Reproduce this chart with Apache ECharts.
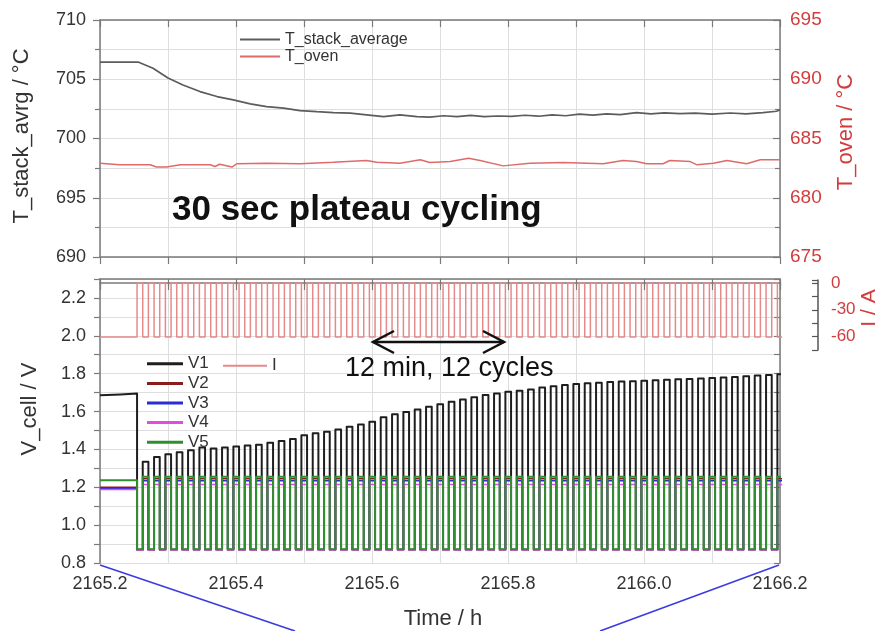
<!DOCTYPE html>
<html>
<head>
<meta charset="utf-8">
<script src="https://cdn.jsdelivr.net/npm/echarts@6/dist/echarts.min.js"></script>
<style>html,body{margin:0;padding:0;background:#fff}#c{width:881px;height:631px}</style>
</head>
<body>
<div id="c"></div>
<script>
// ---------------- data ----------------
const timeMin = 2165.2, timeMax = 2166.2;
const timeLabels = ['2165.2','2165.4','2165.6','2165.8','2166.0','2166.2'];

// upper panel
const tStackTime  = [2165.200,2165.256,2165.278,2165.300,2165.322,2165.347,2165.372,2165.396,2165.421,2165.445,2165.470,2165.494,2165.519,2165.543,2165.568,2165.592,2165.617,2165.641,2165.666,2165.685,2165.705,2165.725,2165.745,2165.765,2165.785,2165.805,2165.825,2165.845,2165.865,2165.885,2165.905,2165.925,2165.945,2165.965,2165.989,2166.010,2166.030,2166.053,2166.075,2166.100,2166.127,2166.150,2166.175,2166.195,2166.200];
const tStackValue = [706.45,706.45,705.93,705.10,704.52,703.96,703.54,703.26,702.92,702.69,702.56,702.36,702.27,702.19,702.14,702.00,701.85,702.00,701.85,701.80,701.92,701.84,701.95,701.84,701.90,701.86,701.96,701.88,701.99,701.92,702.05,701.98,702.08,702.02,702.19,702.08,702.16,702.10,702.14,702.05,702.15,702.08,702.19,702.30,702.42];
const tOvenTime  = [2165.200,2165.229,2165.274,2165.283,2165.298,2165.318,2165.362,2165.369,2165.376,2165.394,2165.401,2165.445,2165.494,2165.543,2165.592,2165.607,2165.641,2165.671,2165.685,2165.715,2165.742,2165.759,2165.793,2165.832,2165.881,2165.940,2165.969,2165.989,2166.004,2166.028,2166.038,2166.068,2166.078,2166.102,2166.122,2166.151,2166.171,2166.200];
const tOvenValue = [682.92,682.78,682.78,682.59,682.59,682.78,682.78,682.64,682.83,682.59,682.87,682.92,682.87,683.00,683.14,683.00,682.92,683.20,682.97,683.05,683.34,683.14,682.69,682.92,682.97,682.87,683.14,683.05,682.87,682.87,683.14,683.05,682.78,682.92,683.14,682.87,683.20,683.20];

// lower panel: 30 s plateau cycling, one cycle per minute
const cycleStart = 2165.2545;        // h, first current step
const cyclePeriod = 1 / 60;          // h (1 min)
const v1Peak = [1.335,1.360,1.375,1.385,1.395,1.410,1.405,1.410,1.415,1.420,1.425,1.435,1.445,1.455,1.475,1.485,1.493,1.505,1.520,1.532,1.546,1.570,1.585,1.597,1.611,1.625,1.638,1.652,1.664,1.675,1.687,1.695,1.704,1.710,1.717,1.727,1.734,1.740,1.745,1.749,1.752,1.756,1.758,1.760,1.762,1.765,1.768,1.770,1.772,1.775,1.777,1.780,1.782,1.786,1.790,1.793,1.797];
const v1Before = [[2165.200,1.686],[2165.230,1.690],[2165.2545,1.695]];
const cellNames   = ['V2','V3','V4','V5'];
const cellBefore  = [1.200, 1.195, 1.188, 1.237];
const cellHigh    = [1.245, 1.235, 1.215, 1.255];
const cellLow     = [0.870, 0.870, 0.868, 0.872];
const v1Low = 0.870;
const currentBefore = -60, currentRest = 0, currentLoad = -60;

// ---------------- build series data ----------------
function zip(a, b) { return a.map((t, i) => [t, b[i]]); }
function cycled(before, lowVals, highVals) {
  const d = before.slice();
  for (let i = 0; i < highVals.length; i++) {
    const t0 = cycleStart + i * cyclePeriod, th = t0 + cyclePeriod / 2, t1 = t0 + cyclePeriod;
    d.push([t0, lowVals[i]], [th, lowVals[i]], [th, highVals[i]], [t1, highVals[i]]);
  }
  return d;
}
const v1Data = cycled(v1Before, v1Peak.map(() => v1Low), v1Peak);
const cellData = cellNames.map((n, k) => cycled([[timeMin, cellBefore[k]], [cycleStart, cellBefore[k]]], v1Peak.map(() => cellLow[k]), v1Peak.map(() => cellHigh[k])));
const iData = cycled([[timeMin, currentBefore], [cycleStart, currentBefore]], v1Peak.map(() => currentRest), v1Peak.map(() => currentLoad));

// ---------------- chart ----------------
const FONT = 'Liberation Sans, Arial, sans-serif';
const AX = '#7a7a7a', GRIDC = '#dedede', TXT = '#333', RED = '#d23c3c';
const frameLine = { show: true, lineStyle: { color: AX, width: 1.5 } };
const chart = echarts.init(document.getElementById('c'), null, { renderer: 'canvas' });

function xBase(grid, pos, extra) {
  return Object.assign({
    type: 'value', gridIndex: grid, position: pos, min: timeMin, max: timeMax, interval: 0.1,
    axisLine: frameLine, axisLabel: { show: false }, splitLine: { show: false },
    axisTick: { show: true, length: 7, inside: pos === 'top', lineStyle: { color: AX, width: 1.2 } }
  }, extra || {});
}

const cellColors = ['#8b1c1c', '#2a2ad6', '#e04ee0', '#2f8f2f'];

const option = {
  animation: false,
  backgroundColor: '#ffffff',
  textStyle: { fontFamily: FONT },
  grid: [
    { left: 100, top: 20, width: 680, height: 237 },
    { left: 100, top: 279, width: 680, height: 284 },
    { left: 818, top: 280, width: 2, height: 70 }
  ],
  xAxis: [
    xBase(0, 'bottom', { splitLine: { show: true, lineStyle: { color: GRIDC, width: 1 } } }),
    xBase(0, 'top'),
    xBase(1, 'bottom', {
      splitLine: { show: true, lineStyle: { color: GRIDC, width: 1 } },
      axisLabel: { show: true, fontSize: 18, color: TXT, margin: 12, fontFamily: FONT,
        formatter: v => { const s = v.toFixed(1); return timeLabels.indexOf(s) >= 0 ? s : ''; } }
    }),
    xBase(1, 'top'),
    { type: 'value', gridIndex: 2, min: 0, max: 1, show: false }
  ],
  yAxis: [
    { type: 'value', gridIndex: 0, position: 'left', min: 690, max: 710, interval: 5,
      axisLine: frameLine,
      axisTick: { show: true, length: 7, lineStyle: { color: AX, width: 1.2 } },
      minorTick: { show: true, splitNumber: 2, length: 5, lineStyle: { color: AX, width: 1.2 } },
      splitLine: { show: true, lineStyle: { color: GRIDC } },
      minorSplitLine: { show: true, lineStyle: { color: GRIDC } },
      axisLabel: { fontSize: 18, color: TXT, margin: 14, fontFamily: FONT } },
    { type: 'value', gridIndex: 0, position: 'right', min: 675, max: 695, interval: 5,
      axisLine: frameLine,
      axisTick: { show: true, inside: true, length: 7, lineStyle: { color: AX, width: 1.2 } },
      minorTick: { show: true, splitNumber: 2, length: 5, lineStyle: { color: AX, width: 1.2 } },
      splitLine: { show: false },
      axisLabel: { fontSize: 19, color: RED, margin: 10, fontFamily: FONT } },
    { type: 'value', gridIndex: 1, position: 'left', min: 0.8, max: 2.3, interval: 0.1,
      axisLine: frameLine,
      axisTick: { show: true, length: 6, lineStyle: { color: AX, width: 1.2 } },
      splitLine: { show: true, lineStyle: { color: GRIDC } },
      axisLabel: { fontSize: 18, color: TXT, margin: 14, fontFamily: FONT,
        formatter: v => { const k = Math.round(v * 10); return (k % 2 === 0 && k <= 22) ? (k / 10).toFixed(1) : ''; } } },
    // hidden current axis in the lower panel: 0 A at the top square level, -60 A on the 2.0 V level
    { type: 'value', gridIndex: 1, position: 'right', min: -311.11, max: 4.444, show: false },
    { type: 'value', gridIndex: 1, position: 'right', min: 0.8, max: 2.3, interval: 0.1,
      axisLine: frameLine, axisLabel: { show: false }, splitLine: { show: false },
      axisTick: { show: true, inside: true, length: 6, lineStyle: { color: AX, width: 1.2 } } },
    { type: 'value', gridIndex: 2, position: 'right', min: -75, max: 3.33, interval: 15,
      axisLine: { show: true, lineStyle: { color: '#555', width: 1.5 } },
      axisTick: { show: true, inside: true, length: 6, lineStyle: { color: '#555', width: 1.2 } },
      splitLine: { show: false },
      axisLabel: { fontSize: 17, color: RED, margin: 11, fontFamily: FONT,
        formatter: v => (v === 0 || v === -30 || v === -60) ? String(v) : '' } }
  ],
  legend: [
    { data: ['T_stack_average', 'T_oven'], orient: 'vertical', left: 240, top: 31, padding: 0, itemGap: 0,
      itemWidth: 40, itemHeight: 2, icon: 'rect', selectedMode: false,
      textStyle: { fontSize: 16, lineHeight: 17, color: TXT, fontFamily: FONT } },
    { data: ['V1', 'V2', 'V3', 'V4', 'V5'], orient: 'vertical', left: 147, top: 354, padding: 0, itemGap: 0,
      itemWidth: 36, itemHeight: 3, icon: 'rect', selectedMode: false,
      textStyle: { fontSize: 17, lineHeight: 19.6, color: TXT, fontFamily: FONT } },
    { data: ['I'], orient: 'vertical', left: 223, top: 356, padding: 0, itemGap: 0,
      itemWidth: 44, itemHeight: 2, icon: 'rect', selectedMode: false,
      textStyle: { fontSize: 17, lineHeight: 19.6, color: TXT, fontFamily: FONT } }
  ],
  series: [
    { name: 'T_stack_average', type: 'line', xAxisIndex: 0, yAxisIndex: 0, data: zip(tStackTime, tStackValue),
      symbol: 'none', color: '#5c5c5c', lineStyle: { color: '#5c5c5c', width: 1.7 } },
    { name: 'T_oven', type: 'line', xAxisIndex: 0, yAxisIndex: 1, data: zip(tOvenTime, tOvenValue),
      symbol: 'none', color: '#de6a6a', lineStyle: { color: '#de6a6a', width: 1.5 } },
    { name: 'I', type: 'line', xAxisIndex: 2, yAxisIndex: 3, data: iData,
      symbol: 'none', color: '#e58a8a', lineStyle: { color: '#e58a8a', width: 1.5, join: 'round' } },
    { name: 'V1', type: 'line', xAxisIndex: 2, yAxisIndex: 2, data: v1Data,
      symbol: 'none', color: '#1e1e1e', lineStyle: { color: '#1e1e1e', width: 2, join: 'round' } }
  ].concat(cellNames.map((n, k) => ({
    name: n, type: 'line', xAxisIndex: 2, yAxisIndex: 2, data: cellData[k],
    symbol: 'none', color: cellColors[k], lineStyle: { color: cellColors[k], width: k === 3 ? 2 : 1.5, join: 'round' }
  }))),
  graphic: { elements: [
    { type: 'text', z: 100, x: 22, y: 136, rotation: Math.PI / 2, style: { text: 'T_stack_avrg / °C', font: '22px ' + FONT, fill: TXT, align: 'center', verticalAlign: 'middle' } },
    { type: 'text', z: 100, x: 846, y: 132, rotation: Math.PI / 2, style: { text: 'T_oven / °C', font: '22px ' + FONT, fill: RED, align: 'center', verticalAlign: 'middle' } },
    { type: 'text', z: 100, x: 30, y: 409, rotation: Math.PI / 2, style: { text: 'V_cell / V', font: '22px ' + FONT, fill: TXT, align: 'center', verticalAlign: 'middle' } },
    { type: 'text', z: 100, x: 869, y: 308, rotation: Math.PI / 2, style: { text: 'I / A', font: '21px ' + FONT, fill: RED, align: 'center', verticalAlign: 'middle' } },
    { type: 'text', z: 100, x: 443, y: 619, style: { text: 'Time / h', font: '22px ' + FONT, fill: TXT, align: 'center', verticalAlign: 'middle' } },
    { type: 'text', z: 100, x: 172, y: 210, style: { text: '30 sec plateau cycling', font: 'bold 35px ' + FONT, fill: '#111', align: 'left', verticalAlign: 'middle' } },
    { type: 'text', z: 100, x: 345, y: 369, style: { text: '12 min, 12 cycles', font: '27px ' + FONT, fill: '#111', align: 'left', verticalAlign: 'middle' } },
    { type: 'line', z: 100, shape: { x1: 373, y1: 342, x2: 504, y2: 342 }, style: { stroke: '#111', lineWidth: 2.5 } },
    { type: 'polyline', z: 100, shape: { points: [[394, 331], [373, 342], [394, 353]] }, style: { stroke: '#111', lineWidth: 2.5, fill: null } },
    { type: 'polyline', z: 100, shape: { points: [[483, 331], [504, 342], [483, 353]] }, style: { stroke: '#111', lineWidth: 2.5, fill: null } },
    { type: 'line', z: 100, shape: { x1: 100, y1: 565, x2: 295, y2: 631 }, style: { stroke: '#3b3be0', lineWidth: 1.6 } },
    { type: 'line', z: 100, shape: { x1: 779, y1: 565, x2: 600, y2: 631 }, style: { stroke: '#3b3be0', lineWidth: 1.6 } }
  ] }
};
chart.setOption(option);
</script>
</body>
</html>
